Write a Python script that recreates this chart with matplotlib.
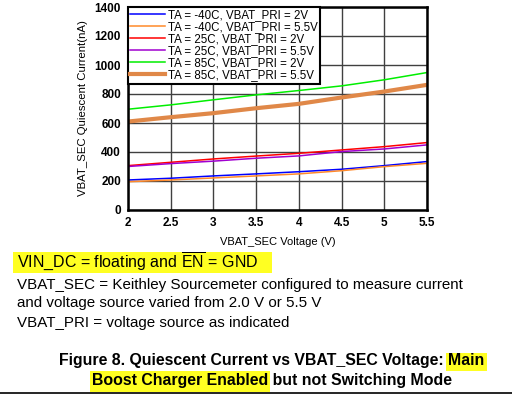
import matplotlib
matplotlib.use("Agg")
import matplotlib.pyplot as plt
from matplotlib.lines import Line2D
from matplotlib.patches import Rectangle

plt.rcParams['font.family'] = ['Liberation Sans', 'DejaVu Sans']
plt.rcParams['mathtext.fontset'] = 'custom'
plt.rcParams['mathtext.rm'] = 'Liberation Sans'

# VBAT_SEC voltage (V)
vsec = [2.0, 2.5, 3.0, 3.5, 4.0, 4.5, 5.0, 5.5]
# quiescent current (nA)
m40_2v = [207, 219, 235, 249, 264, 281, 306, 334]
m40_55v = [195, 207, 221, 235, 249, 271, 299, 322]
t25_2v = [306, 329, 352, 372, 391, 414, 437, 465]
t25_55v = [300, 320, 337, 357, 373, 403, 421, 449]
t85_2v = [695, 725, 760, 794, 824, 856, 898, 948]
t85_55v = [610, 640, 668, 702, 732, 776, 817, 863]

labels = ["TA = -40C, VBAT_PRI = 2V", "TA = -40C, VBAT_PRI = 5.5V",
          "TA = 25C, VBAT_PRI = 2V", "TA = 25C, VBAT_PRI = 5.5V",
          "TA = 85C, VBAT_PRI = 2V", "TA = 85C, VBAT_PRI = 5.5V"]
series = [m40_2v, m40_55v, t25_2v, t25_55v, t85_2v, t85_55v]
colors = ['#0000ff', '#ff8a2a', '#ff0000', '#a000d0', '#00ee00', '#e08848']
widths = [1.1, 1.1, 1.1, 1.1, 1.1, 3.0]

xticks = [2, 2.5, 3, 3.5, 4, 4.5, 5, 5.5]
xticklabels = ['2', '2.5', '3', '3.5', '4', '4.5', '5', '5.5']
yticks = [0, 200, 400, 600, 800, 1000, 1200, 1400]

W, H = 512, 395
fig = plt.figure(figsize=(W/100, H/100), dpi=100)
ax = fig.add_axes([128/W, 1-210/H, 299/W, 203/H])

for s, c, w, l in zip(series, colors, widths, labels):
    ax.plot(vsec, s, color=c, lw=w, label=l)

ax.set_xlim(2, 5.5)
ax.set_ylim(0, 1400)
ax.set_xticks(xticks)
ax.set_xticklabels(xticklabels)
ax.set_yticks(yticks)
ax.grid(True, color='#404040', lw=1.0)
ax.set_axisbelow(True)
ax.tick_params(length=0, labelsize=8.5, pad=5)
for t in ax.get_xticklabels() + ax.get_yticklabels():
    t.set_fontweight('bold')
for sp in ax.spines.values():
    sp.set_linewidth(1.8)
ax.set_xlabel("VBAT_SEC Voltage (V)", fontsize=8, labelpad=6)
ax.set_ylabel("VBAT_SEC Quiescent Current(nA)", fontsize=8.2, labelpad=5)

leg = ax.legend(loc='upper left', fontsize=8.3, borderaxespad=0, borderpad=0.2,
                labelspacing=0.0, handlelength=3.0, handletextpad=0.3,
                fancybox=False, framealpha=1, edgecolor='black')
leg.get_frame().set_linewidth(1.5)

yel = '#ffff22'


def px_rect(x0, y0, x1, y1):
    # rectangle given in pixel coords from top-left
    fig.add_artist(Rectangle((x0/W, 1-y1/H), (x1-x0)/W, (y1-y0)/H,
                             transform=fig.transFigure, facecolor=yel,
                             edgecolor='none', zorder=0))


px_rect(13, 252, 272, 273)
fig.text(17/W, 1-262/H, r"VIN_DC = floating and $\overline{\mathrm{EN}}$ = GND",
         fontsize=11.5, va='center')
fig.text(17/W, 1-285/H, "VBAT_SEC = Keithley Sourcemeter configured to measure current",
         fontsize=10.9, va='center')
fig.text(17/W, 1-303/H, "and voltage source varied from 2.0 V or 5.5 V",
         fontsize=10.9, va='center')
fig.text(17/W, 1-323/H, "VBAT_PRI = voltage source as indicated",
         fontsize=10.9, va='center')

# caption, two centred lines with highlighted words
cap1 = "Figure 8. Quiescent Current vs VBAT_SEC Voltage: Main"
cap2 = "Boost Charger Enabled but not Switching Mode"
cx = 272/W
t1 = fig.text(cx, 1-360/H, cap1, fontsize=11.4, fontweight='bold', ha='center', va='center')
t2 = fig.text(cx, 1-380/H, cap2, fontsize=11.4, fontweight='bold', ha='center', va='center')
fig.canvas.draw()
r = fig.canvas.get_renderer()


def text_w(s):
    tmp = fig.text(0, 0, s, fontsize=11.4, fontweight='bold')
    w = tmp.get_window_extent(r).width
    tmp.remove()
    return w


b1 = t1.get_window_extent(r)
b2 = t2.get_window_extent(r)
wm = text_w("Main")
px_rect(b1.x1 - wm - 2, 353, b1.x1 + 2, 371)
we = text_w("Boost Charger Enabled")
px_rect(b2.x0 - 2, 371, b2.x0 + we + 2, 392)

fig.add_artist(Line2D([0, 1], [1-393/H, 1-393/H], color='black', lw=1.2))

fig.savefig("out.png", dpi=100)
